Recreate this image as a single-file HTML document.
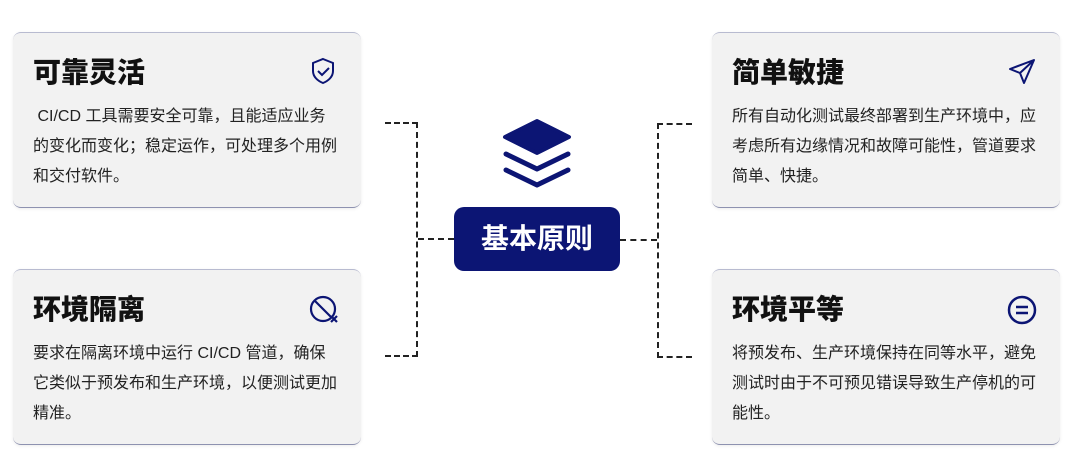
<!DOCTYPE html>
<html><head><meta charset="utf-8"><style>
body{margin:0;width:1080px;height:472px;background:#fff;position:relative;overflow:hidden;font-family:"Liberation Sans","Noto Sans CJK SC",sans-serif}
.card{position:absolute;width:348px;height:176px;background:#f2f2f2;border-radius:8px;box-shadow:0 1px 3px rgba(0,0,0,0.08);border-top:1px solid #b8bbd0;border-bottom:1px solid #8e92b0;box-sizing:border-box}
.card h2{position:absolute;left:20px;top:20px;margin:0;font-size:28px;font-weight:900;color:#111;line-height:40px}
.card p{position:absolute;left:20px;top:69px;width:306px;margin:0;font-size:16px;line-height:30px;color:#222}
.card svg{position:absolute;left:294px;top:22px}
.l{position:absolute;border-color:#222;border-style:dashed;border-width:0}
</style></head><body>
<div class="card" style="left:13px;top:32px"><h2>可靠灵活</h2><svg width="32" height="32" viewBox="0 0 32 32"><path d="M16 4 L26 8 V16 C26 22 21 26 16 28 C11 26 6 22 6 16 V8 Z" fill="none" stroke="#0c1574" stroke-width="2"/><path d="M11 16 l4 4 l7 -7" fill="none" stroke="#0c1574" stroke-width="2"/></svg><p>&nbsp;CI/CD 工具需要安全可靠，且能适应业务的变化而变化；稳定运作，可处理多个用例和交付软件。</p></div>
<div class="card" style="left:13px;top:269px"><h2>环境隔离</h2><svg width="36" height="36" viewBox="0 0 36 36"><circle cx="16" cy="17" r="12" fill="none" stroke="#0c1574" stroke-width="2.2"/><path d="M8 9 L24 25" stroke="#0c1574" stroke-width="2.2"/><path d="M24 24 l6 6 M30 24 l-6 6" stroke="#0c1574" stroke-width="2.2"/></svg><p>要求在隔离环境中运行 CI/CD 管道，确保它类似于预发布和生产环境，以便测试更加精准。</p></div>
<div class="card" style="left:712px;top:32px"><h2>简单敏捷</h2><svg width="32" height="32" viewBox="0 0 32 32"><path d="M28 5 L4 14 L14 18 L18 28 Z M14 18 L28 5" fill="none" stroke="#0c1574" stroke-width="2" stroke-linejoin="round"/></svg><p>所有自动化测试最终部署到生产环境中，应考虑所有边缘情况和故障可能性，管道要求简单、快捷。</p></div>
<div class="card" style="left:712px;top:269px"><h2>环境平等</h2><svg width="34" height="34" viewBox="0 0 34 34"><circle cx="16" cy="18" r="13" fill="none" stroke="#0c1574" stroke-width="2.5"/><path d="M10 15 H22 M10 21 H22" stroke="#0c1574" stroke-width="2.5"/></svg><p>将预发布、生产环境保持在同等水平，避免测试时由于不可预见错误导致生产停机的可能性。</p></div>
<div class="l" style="left:385px;top:122px;width:31px;height:231px;border-top-width:2px;border-right-width:2px;border-bottom-width:2px"></div>
<div class="l" style="left:418px;top:238px;width:36px;border-top-width:2px"></div>
<div class="l" style="left:657px;top:123px;width:33px;height:231px;border-top-width:2px;border-left-width:2px;border-bottom-width:2px"></div>
<div class="l" style="left:620px;top:239px;width:37px;border-top-width:2px"></div>
<svg style="position:absolute;left:500px;top:118px" width="74" height="72" viewBox="0 0 74 72"><path d="M37 3 L69 19 L37 35 L5 19 Z" fill="#0c1574" stroke="#0c1574" stroke-width="4" stroke-linejoin="round"/><path d="M6 36 L37 51 L68 36" fill="none" stroke="#0c1574" stroke-width="5" stroke-linecap="round" stroke-linejoin="round"/><path d="M6 52 L37 67 L68 52" fill="none" stroke="#0c1574" stroke-width="5" stroke-linecap="round" stroke-linejoin="round"/></svg>
<div style="position:absolute;left:454px;top:207px;width:166px;height:64px;background:#0c1574;border-radius:10px;color:#fff;font-size:28px;font-weight:bold;line-height:64px;text-align:center">基本原则</div>
</body></html>
